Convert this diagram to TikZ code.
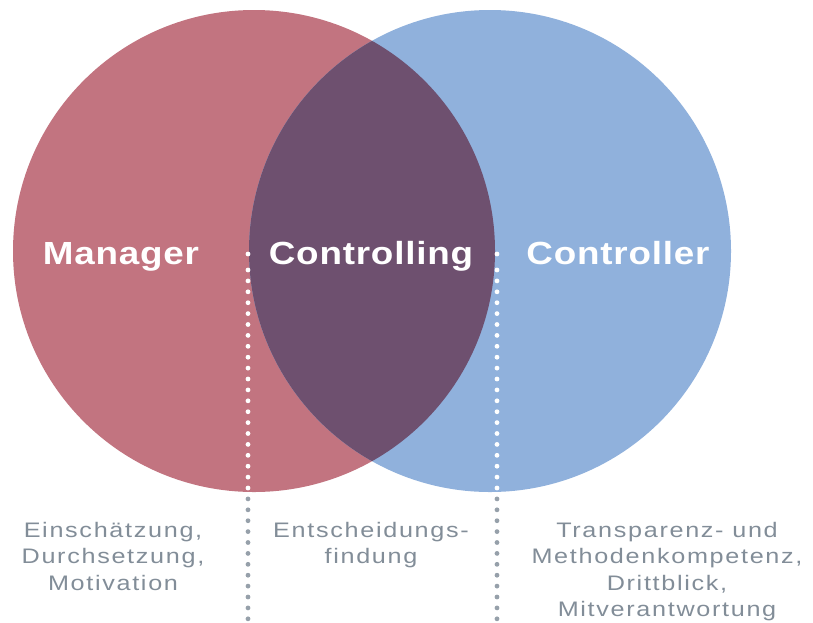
\documentclass[tikz,border=0pt]{standalone}
\usepackage{fontspec}
\setmainfont{Liberation Sans}
\newfontfamily\bigfont[LetterSpace=2.5,FakeStretch=1.15]{Liberation Sans}
\newfontfamily\descfont[LetterSpace=8,FakeStretch=1.2]{Liberation Sans}
\definecolor{mgrcol}{RGB}{194,116,128}
\definecolor{ctrcol}{RGB}{144,177,220}
\definecolor{lenscol}{RGB}{110,80,111}
\definecolor{descgray}{RGB}{130,141,152}
\definecolor{dotgray}{RGB}{150,160,170}
\tikzset{
  biglabel/.style={text=white, font=\bigfont\bfseries\fontsize{32}{38}\selectfont, inner sep=0pt, anchor=base},
  desc/.style={text=descgray, font=\descfont\fontsize{21}{26.5}\selectfont, align=center, inner sep=0pt, anchor=north},
  bigcircle/.style={circle, minimum size=482pt, inner sep=0pt, draw=none}
}
\begin{document}
\begin{tikzpicture}[x=1pt,y=-1pt]
\useasboundingbox (0,0) rectangle (813,622);
\node[bigcircle, fill=mgrcol] (mgr) at (254,251) {};
\node[bigcircle, fill=ctrcol] (ctr) at (490,251) {};
\begin{scope}
  \clip (254,251) circle[radius=241pt];
  \fill[lenscol] (490,251) circle[radius=241pt];
\end{scope}
% dotted separators
\foreach \x in {248,497} {
  \fill[white] (\x,254) circle[radius=2.4pt];
  \foreach \k in {0,...,32} {
    \pgfmathsetmacro\yy{270+\k*10.9}
    \ifnum\k<21
      \fill[white] (\x,\yy) circle[radius=2.4pt];
    \else
      \fill[dotgray] (\x,\yy) circle[radius=2.4pt];
    \fi
  }
}
\node[biglabel] (lm) at (121,264.5) {Manager};
\node[biglabel] (lc) at (371,264.5) {Controlling};
\node[biglabel] (lr) at (618,264.5) {Controller};
\node[desc] (dm) at (113,522) {Einschätzung,\\Durchsetzung,\\Motivation};
\node[desc] (dc) at (371,522) {Entscheidungs-\\findung};
\node[desc] (dr) at (667,522) {Transparenz- und\\Methodenkompetenz,\\Drittblick,\\Mitverantwortung};
\end{tikzpicture}
\end{document}
